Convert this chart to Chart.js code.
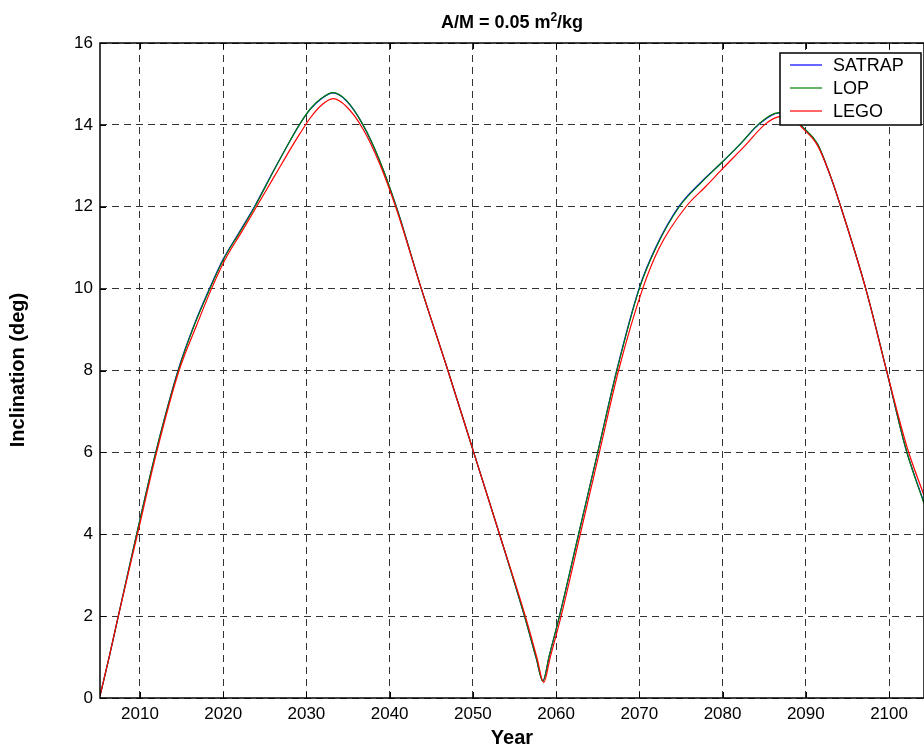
<!DOCTYPE html>
<html>
<head>
<meta charset="utf-8">
<script src="https://cdn.jsdelivr.net/npm/chart.js@4.4.0/dist/chart.umd.min.js"></script>
<style>
    html, body { margin: 0; padding: 0; background: #fff; }
</style>
</head>
<body>

<canvas id="incChart" width="924" height="749"></canvas>

<script>
// tick values
const xTicks = [2010, 2020, 2030, 2040, 2050, 2060, 2070, 2080, 2090, 2100];
const yTicks = [0, 2, 4, 6, 8, 10, 12, 14, 16];

// LOP (green)
const lopYears = [2005.2, 2006.3, 2007.4, 2009.6, 2011.9, 2014.6, 2016.6, 2018.4, 2020.0, 2022.0, 2023.8, 2026.0, 2028.0, 2029.2, 2030.5, 2031.8, 2033.2, 2034.8, 2036.8, 2038.8, 2040.8, 2043.8, 2047.0, 2050.1, 2053.2, 2056.2, 2057.6, 2058.4, 2059.2, 2060.4, 2062.7, 2065.0, 2067.3, 2070.0, 2072.0, 2074.8, 2077.5, 2080.0, 2082.2, 2084.4, 2086.8, 2088.0, 2089.6, 2091.4, 2093.0, 2094.2, 2097.2, 2099.7, 2102.0, 2104.2];
const lopIncl  = [0.05, 1.0, 2.0, 4.0, 6.0, 8.0, 9.14, 10.0, 10.7, 11.38, 12.0, 12.85, 13.6, 14.02, 14.4, 14.65, 14.79, 14.6, 14.0, 13.13, 12.0, 10.0, 8.0, 6.0, 4.0, 2.0, 0.98, 0.41, 1.05, 2.0, 4.0, 6.0, 8.0, 10.0, 11.0, 12.0, 12.6, 13.1, 13.55, 14.03, 14.3, 14.3, 13.95, 13.54, 12.73, 12.0, 10.0, 8.0, 6.1, 4.75];

// SATRAP (blue) - nearly on top of LOP
const satrapYears = [2005.2, 2006.3, 2007.4, 2009.6, 2011.9, 2014.6, 2016.6, 2018.4, 2020.0, 2022.0, 2023.8, 2026.0, 2028.0, 2029.2, 2030.5, 2031.8, 2033.2, 2034.8, 2036.8, 2038.8, 2040.8, 2043.8, 2047.0, 2050.1, 2053.2, 2056.2, 2057.6, 2058.4, 2059.2, 2060.4, 2062.7, 2065.0, 2067.3, 2070.0, 2072.0, 2074.8, 2077.5, 2080.0, 2082.2, 2084.4, 2086.8, 2088.0, 2089.6, 2091.4, 2093.0, 2094.2, 2097.2, 2099.7, 2102.0, 2104.2];
const satrapIncl  = [0.05, 1.0, 2.0, 4.0, 6.0, 8.02, 9.16, 10.02, 10.72, 11.4, 12.02, 12.86, 13.6, 14.02, 14.39, 14.64, 14.78, 14.59, 14.0, 13.12, 12.0, 10.0, 8.0, 6.0, 4.0, 2.0, 0.98, 0.42, 1.05, 2.0, 4.0, 6.0, 8.02, 10.02, 11.02, 12.02, 12.62, 13.1, 13.55, 14.02, 14.29, 14.29, 13.95, 13.53, 12.72, 12.0, 10.0, 8.0, 6.1, 4.77];

// LEGO (red) - slightly lower peaks, lags on the way up
const legoYears = [2005.2, 2006.3, 2007.4, 2009.7, 2012.0, 2014.7, 2016.8, 2018.6, 2020.2, 2022.2, 2024.0, 2026.2, 2028.2, 2029.2, 2030.5, 2031.8, 2033.2, 2034.8, 2036.8, 2038.8, 2040.8, 2043.8, 2047.0, 2050.1, 2053.2, 2056.3, 2057.7, 2058.5, 2059.3, 2060.6, 2062.9, 2065.2, 2067.5, 2070.4, 2072.4, 2075.6, 2078.0, 2080.0, 2082.5, 2085.2, 2086.8, 2088.0, 2089.6, 2091.4, 2093.0, 2094.2, 2097.2, 2099.7, 2102.2, 2104.2];
const legoIncl  = [0.05, 1.0, 2.0, 4.0, 6.0, 8.0, 9.1, 10.0, 10.7, 11.38, 12.0, 12.76, 13.45, 13.78, 14.18, 14.48, 14.64, 14.45, 13.9, 13.05, 11.95, 10.0, 8.0, 6.0, 4.0, 2.0, 0.98, 0.38, 1.0, 2.0, 4.0, 6.0, 8.0, 10.0, 11.0, 12.0, 12.5, 12.93, 13.45, 14.03, 14.2, 14.22, 13.92, 13.5, 12.73, 12.0, 10.0, 8.0, 6.1, 4.95];

function pts(xs, ys) {
    return xs.map(function(x, i) { return {x: x, y: ys[i]}; });
}

const FONT = "'Liberation Sans', Arial, Helvetica, sans-serif";

// title, axis titles, box, inward ticks and legend
const matlabLook = {
    id: 'matlabLook',
    afterDraw: function(chart) {
        const ctx = chart.ctx;
        const a = chart.chartArea;
        const xs = chart.scales.x, ys = chart.scales.y;
        ctx.save();

        // box
        ctx.strokeStyle = '#000';
        ctx.lineWidth = 1.5;
        ctx.setLineDash([]);
        ctx.strokeRect(a.left, a.top, a.right - a.left, a.bottom - a.top);

        // inward ticks
        ctx.lineWidth = 1;
        ctx.beginPath();
        xTicks.forEach(function(t) {
            const px = Math.round(xs.getPixelForValue(t)) + 0.5;
            ctx.moveTo(px, a.bottom); ctx.lineTo(px, a.bottom - 6);
            ctx.moveTo(px, a.top); ctx.lineTo(px, a.top + 6);
        });
        yTicks.forEach(function(t) {
            const py = Math.round(ys.getPixelForValue(t)) + 0.5;
            ctx.moveTo(a.left, py); ctx.lineTo(a.left + 6, py);
        });
        ctx.stroke();

        // title with superscript
        ctx.fillStyle = '#000';
        ctx.textBaseline = 'alphabetic';
        ctx.textAlign = 'left';
        const big = 'bold 18px ' + FONT, small = 'bold 12px ' + FONT;
        const p1 = 'A/M = 0.05 m', p2 = '2', p3 = '/kg';
        ctx.font = big; const w1 = ctx.measureText(p1).width, w3 = ctx.measureText(p3).width;
        ctx.font = small; const w2 = ctx.measureText(p2).width;
        let tx = (a.left + a.right) / 2 - (w1 + w2 + w3) / 2;
        const ty = 28;
        ctx.font = big; ctx.fillText(p1, tx, ty); tx += w1;
        ctx.font = small; ctx.fillText(p2, tx, ty - 7); tx += w2;
        ctx.font = big; ctx.fillText(p3, tx, ty);

        // axis titles
        ctx.font = 'bold 20px ' + FONT;
        ctx.textAlign = 'center';
        ctx.fillText('Year', (a.left + a.right) / 2, 744);
        ctx.save();
        ctx.translate(18, 370);
        ctx.rotate(-Math.PI / 2);
        ctx.textBaseline = 'middle';
        ctx.fillText('Inclination (deg)', 0, 0);
        ctx.restore();

        // legend
        const lx = 780, ly = 53, lw = 141, lh = 72;
        ctx.fillStyle = '#fff';
        ctx.fillRect(lx, ly, lw, lh);
        ctx.strokeStyle = '#000';
        ctx.lineWidth = 1.5;
        ctx.strokeRect(lx, ly, lw, lh);
        ctx.font = '18px ' + FONT;
        ctx.textAlign = 'left';
        ctx.textBaseline = 'middle';
        chart.data.datasets.forEach(function(ds, i) {
            const yy = ly + 12 + i * 23;
            ctx.strokeStyle = ds.borderColor;
            ctx.lineWidth = 1.2;
            ctx.beginPath();
            ctx.moveTo(lx + 10, yy); ctx.lineTo(lx + 42, yy);
            ctx.stroke();
            ctx.fillStyle = '#000';
            ctx.fillText(ds.label, lx + 53, yy + 1);
        });

        ctx.restore();
    }
};

var ctx = document.getElementById('incChart').getContext('2d');
var chart = new Chart(ctx, {
    type: 'line',
    data: {
        datasets: [{
            label: 'SATRAP',
            borderColor: '#0000ff',
            data: pts(satrapYears, satrapIncl),
            order: 2
        }, {
            label: 'LOP',
            borderColor: '#008000',
            data: pts(lopYears, lopIncl),
            order: 1
        }, {
            label: 'LEGO',
            borderColor: '#ff0000',
            data: pts(legoYears, legoIncl),
            order: 0
        }]
    },
    options: {
        responsive: false,
        animation: false,
        layout: { padding: { left: 0, top: 43, right: 0, bottom: 0 } },
        elements: {
            point: { radius: 0 },
            line: { borderWidth: 1.2, cubicInterpolationMode: 'monotone', fill: false }
        },
        plugins: {
            legend: { display: false },
            title: { display: false },
            tooltip: { enabled: false }
        },
        scales: {
            x: {
                type: 'linear',
                min: 2005.2,
                max: 2104.2,
                afterBuildTicks: function(scale) {
                    scale.ticks = xTicks.map(function(v) { return {value: v}; });
                },
                afterFit: function(scale) { scale.height = 51; },
                grid: { color: '#333', lineWidth: 1, drawTicks: false },
                border: { display: false, dash: [7, 5] },
                ticks: {
                    color: '#000',
                    font: { family: FONT, size: 17 },
                    padding: 6,
                    maxRotation: 0,
                    callback: function(v) { return String(v); }
                }
            },
            y: {
                min: 0,
                max: 16,
                afterBuildTicks: function(scale) {
                    scale.ticks = yTicks.map(function(v) { return {value: v}; });
                },
                afterFit: function(scale) { scale.width = 100; },
                grid: { color: '#333', lineWidth: 1, drawTicks: false },
                border: { display: false, dash: [7, 5] },
                ticks: {
                    color: '#000',
                    font: { family: FONT, size: 17 },
                    padding: 7
                }
            }
        }
    },
    plugins: [matlabLook]
});
</script>

</body>
</html>
